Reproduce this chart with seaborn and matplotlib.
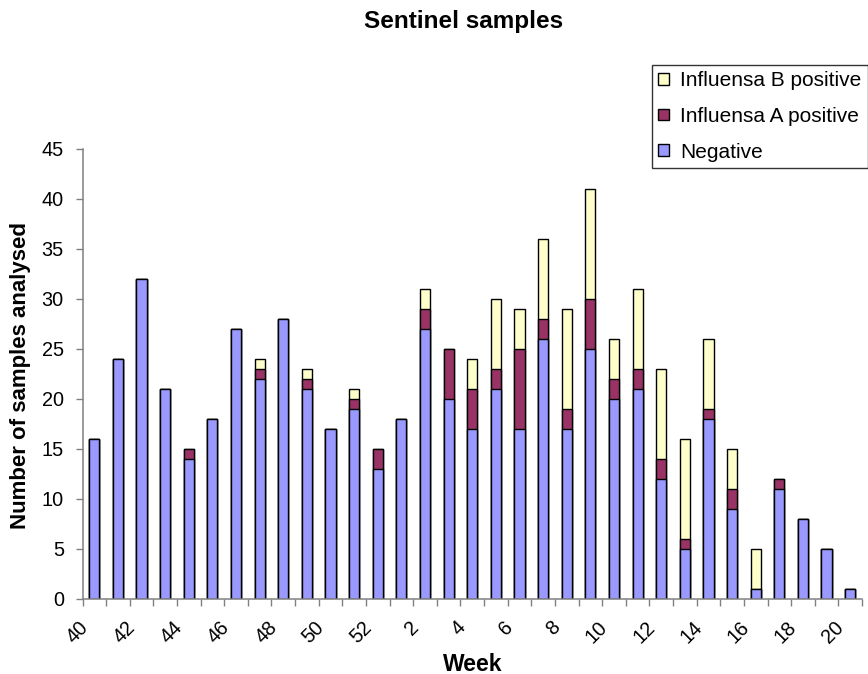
import matplotlib
matplotlib.use("Agg")
import matplotlib.pyplot as plt
import matplotlib.transforms as mtransforms
import seaborn as sns
import numpy as np
import pandas as pd
from matplotlib.patches import Patch

weeks = [str(w) for w in list(range(40, 53)) + list(range(1, 21))]
negative = [16, 24, 32, 21, 14, 18, 27, 22, 28, 21, 17, 19, 13, 18,
            27, 20, 17, 21, 17, 26, 17, 25, 20, 21, 12, 5, 18, 9, 1, 11, 8, 5, 1]
influenza_a = [0, 0, 0, 0, 1, 0, 0, 1, 0, 1, 0, 1, 2, 0,
               2, 5, 4, 2, 8, 2, 2, 5, 2, 2, 2, 1, 1, 2, 0, 1, 0, 0, 0]
influenza_b = [0, 0, 0, 0, 0, 0, 0, 1, 0, 1, 0, 1, 0, 0,
               2, 0, 3, 7, 4, 8, 10, 11, 4, 8, 9, 10, 7, 4, 4, 0, 0, 0, 0]

series_labels = ["Influensa B positive", "Influensa A positive", "Negative"]
colors = {"Negative": "#9999FF", "Influensa A positive": "#993366",
          "Influensa B positive": "#FFFFCC"}

df = pd.DataFrame({"week": weeks, "neg": negative, "a": influenza_a, "b": influenza_b})
df["neg_a"] = df["neg"] + df["a"]
df["total"] = df["neg_a"] + df["b"]

sns.set_style("white")
plt.rcParams["font.family"] = ["Liberation Sans", "DejaVu Sans"]
plt.rcParams["text.color"] = "black"
plt.rcParams["xtick.color"] = "black"
plt.rcParams["ytick.color"] = "black"

axis_gray = "#808080"

fig = plt.figure(figsize=(8.68, 6.74), dpi=100)
ax = fig.add_axes([82.5 / 868, 75.5 / 674, 779.5 / 868, 449.5 / 674])

bar_kw = dict(order=weeks, width=0.43, edgecolor="black", linewidth=1.0,
              errorbar=None, ax=ax, saturation=1)
# stacked columns drawn as cumulative layers, top segment first
sns.barplot(data=df, x="week", y="total", color=colors["Influensa B positive"], **bar_kw)
sns.barplot(data=df, x="week", y="neg_a", color=colors["Influensa A positive"], **bar_kw)
sns.barplot(data=df, x="week", y="neg", color=colors["Negative"], **bar_kw)

ax.set_xlim(-0.5, len(weeks) - 0.5)
ax.set_ylim(0, 45)
ax.set_yticks(np.arange(0, 46, 5))
ax.tick_params(axis="y", labelsize=14.3, length=5, width=1, color=axis_gray,
               labelcolor="black", direction="out", left=True, pad=8.5)

# category labels on every other week, boundary ticks between categories
ax.set_xticks(np.arange(0, len(weeks), 2))
ax.set_xticklabels(weeks[::2], rotation=45, ha="right", rotation_mode="anchor",
                   fontsize=14.3)
ax.tick_params(axis="x", which="major", length=0, pad=14, labelcolor="black")
shift = mtransforms.ScaledTranslation(-16 / 100, 0, fig.dpi_scale_trans)
for lbl in ax.get_xticklabels():
    lbl.set_transform(lbl.get_transform() + shift)
ax.set_xticks(np.arange(-0.5, len(weeks), 1), minor=True)
ax.tick_params(axis="x", which="minor", length=5, width=1, color=axis_gray,
               direction="out", bottom=True)

for side in ("top", "right"):
    ax.spines[side].set_visible(False)
for side in ("left", "bottom"):
    ax.spines[side].set_color(axis_gray)
    ax.spines[side].set_linewidth(1.1)

ax.set_xlabel("")
ax.set_ylabel("")
fig.text(463.5 / 868, 0.968, "Sentinel samples", ha="center", va="center",
         fontsize=17.5, fontweight="bold")
fig.text(472.5 / 868, 0.005, "Week", ha="center", va="baseline",
         fontsize=16.5, fontweight="bold")
fig.text(20.5 / 868, 0.443, "Number of samples analysed", ha="center", va="center",
         rotation=90, fontsize=16, fontweight="bold")

handles = [Patch(facecolor=colors[s], edgecolor="black", linewidth=1) for s in series_labels]
leg = fig.legend(handles, series_labels, loc="upper left",
                 bbox_to_anchor=(652 / 868, 1 - 65 / 674), fontsize=15,
                 frameon=True, fancybox=False, edgecolor="black",
                 handlelength=0.5, handleheight=0.5, handletextpad=0.55,
                 labelspacing=0.8, borderpad=0.3, borderaxespad=0)
leg.get_frame().set_linewidth(1)

fig.savefig("out.png", dpi=100)
